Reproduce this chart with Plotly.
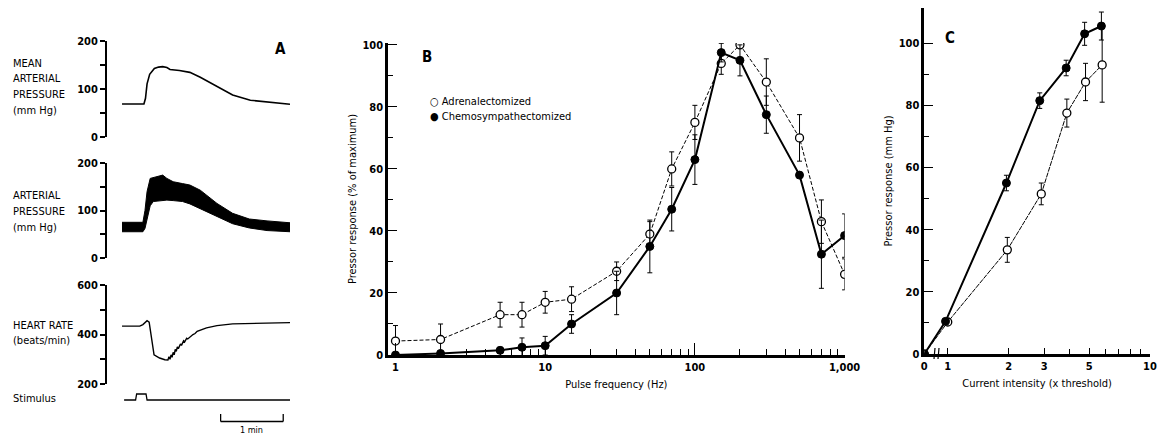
import plotly.graph_objects as go

W, H = 1157, 435
FONT = "DejaVu Sans Condensed, Liberation Sans Narrow, DejaVu Sans, sans-serif"


def fx(p):
    return p / W


def fy(p):
    return 1 - p / H


# ---------------- Panel A: recordings (time in seconds) ----------------
map_t = [0, 21, 22.5, 24, 26.5, 29, 31, 35, 39, 43, 46, 55, 65, 75, 91, 106, 123, 139, 161]
map_v = [68, 68, 80, 110, 130, 138, 142, 145, 146, 144, 140, 138, 134, 124, 104, 87, 76, 72, 67.5]

ap_t = [0, 20, 22, 24, 27, 30, 35, 39, 43, 49, 58, 65, 75, 91, 106, 122, 139, 161]
ap_hi = [75, 75, 100, 140, 168, 170, 172, 175, 168, 161, 157, 154, 143, 115, 94, 82, 78, 74]
ap_lo = [55, 55, 62, 80, 110, 119, 120, 122, 122, 121, 119, 114, 104, 87, 72, 63, 57.5, 55]

hr_t = [0, 17, 20, 24, 26, 28.5, 30.7, 36, 41, 44, 45, 46, 47, 48, 49, 50, 51, 52, 53, 54,
        56, 57, 59, 60, 62, 63, 66, 68, 70, 72, 81, 91, 106, 139, 161]
hr_v = [434, 434, 440, 456, 450, 370, 318, 305, 298, 297, 310, 300, 318, 308, 328, 318, 340, 332, 350, 343,
        362, 356, 375, 370, 385, 382, 395, 400, 404, 413, 427, 436, 443, 447, 448]

stim_t = [2, 13, 14, 23, 24, 161]
stim_v = [0, 0, 1, 1, 0, 0]

scale_bar_t = [94.5, 154.5]  # 1 min

# ---------------- Panel B: frequency-response ----------------
freq_b = [1, 2, 5, 7, 10, 15, 30, 50, 70, 100, 150, 200, 300, 500, 700, 1000]
adren_b = [4.5, 5, 13, 13, 17, 18, 27, 39, 60, 75, 94, 100, 88, 70, 43, 26]
adren_b_err = [5, 5, 4, 4, 3.5, 4, 3, 4, 5.5, 5.5, 3.5, 0, 7.5, 7.5, 7, 5]
chemo_b = [0, 0.5, 1.5, 2.5, 3, 10, 20, 35, 47, 63, 97.5, 95, 77.5, 58, 32.5, 38.5]
chemo_b_err = [0, 0.5, 1, 3, 3, 3, 7, 8.5, 7, 8, 3, 5, 6, 0, 11, 7]

# ---------------- Panel C: current-response ----------------
cur_chemo = [0, 0.975, 1.95, 2.85, 3.85, 4.75, 5.75]
chemo_c = [0, 10.5, 55, 81.5, 92, 103, 105.5]
chemo_c_err = [0, 0, 2.5, 2.5, 2.5, 3.7, 4.5]
cur_adren = [0, 1.0, 1.97, 2.9, 3.88, 4.8, 5.8]
adren_c = [0, 10.3, 33.5, 51.5, 77.5, 87.5, 93]
adren_c_err = [0, 0, 4, 3.5, 4.5, 6, 12]

# broken log axis: zero is drawn at the left end of the axis
AXIS_ZERO = 10 ** -0.116

fig = go.Figure()

# Panel A traces
fig.add_trace(go.Scatter(x=map_t, y=map_v, xaxis="x", yaxis="y", mode="lines",
                         line=dict(color="black", width=1.6)))
fig.add_trace(go.Scatter(x=ap_t, y=ap_lo, xaxis="x", yaxis="y2", mode="lines",
                         line=dict(color="black", width=1)))
fig.add_trace(go.Scatter(x=ap_t, y=ap_hi, xaxis="x", yaxis="y2", mode="lines", fill="tonexty",
                         fillcolor="black", line=dict(color="black", width=1)))
fig.add_trace(go.Scatter(x=hr_t, y=hr_v, xaxis="x", yaxis="y3", mode="lines",
                         line=dict(color="black", width=1.4)))
fig.add_trace(go.Scatter(x=stim_t, y=stim_v, xaxis="x", yaxis="y4", mode="lines",
                         line=dict(color="black", width=1.3)))

open_marker = dict(symbol="circle", size=8, color="white", line=dict(color="black", width=1.3))
filled_marker = dict(symbol="circle", size=8, color="black", line=dict(color="black", width=1))
err_style = dict(type="data", thickness=1, width=2.5, color="black")

# Panel B traces
fig.add_trace(go.Scatter(x=freq_b, y=adren_b, xaxis="x2", yaxis="y5", mode="lines+markers",
                         line=dict(color="black", width=1, dash="4px,2px"), marker=open_marker,
                         error_y=dict(array=adren_b_err, **err_style)))
fig.add_trace(go.Scatter(x=freq_b, y=chemo_b, xaxis="x2", yaxis="y5", mode="lines+markers",
                         line=dict(color="black", width=2), marker=filled_marker,
                         error_y=dict(array=chemo_b_err, **err_style)))

# Panel C traces
cx_adren = [AXIS_ZERO if v == 0 else v for v in cur_adren]
cx_chemo = [AXIS_ZERO if v == 0 else v for v in cur_chemo]
fig.add_trace(go.Scatter(x=cx_adren, y=adren_c, xaxis="x3", yaxis="y6", mode="lines+markers",
                         line=dict(color="black", width=1, dash="5px,1px"), marker=open_marker,
                         error_y=dict(array=adren_c_err, **err_style)))
fig.add_trace(go.Scatter(x=cx_chemo, y=chemo_c, xaxis="x3", yaxis="y6", mode="lines+markers",
                         line=dict(color="black", width=2), marker=filled_marker,
                         error_y=dict(array=chemo_c_err, **err_style)))

tickfont = dict(family=FONT, size=11, color="black", weight="bold")
title_font = dict(family=FONT, size=11, color="black")
axis_common = dict(showline=True, linecolor="black", showgrid=False, zeroline=False,
                   tickcolor="black", tickfont=tickfont, automargin=False)

# Panel A axes
fig.update_layout(
    xaxis=dict(domain=[fx(107), fx(290)], range=[-14.4, 161], visible=False, anchor="y",
               automargin=False),
    yaxis=dict(domain=[fy(136.7), fy(40.7)], range=[0, 200], anchor="x", linewidth=2,
               ticks="outside", ticklen=5, tickwidth=1.5,
               tickvals=[0, 50, 100, 150, 200], ticktext=["0", "", "100", "", "200"], **axis_common),
    yaxis2=dict(domain=[fy(257.7), fy(163.3)], range=[0, 200], anchor="x", linewidth=2,
                ticks="outside", ticklen=5, tickwidth=1.5,
                tickvals=[0, 50, 100, 150, 200], ticktext=["0", "", "100", "", "200"], **axis_common),
    yaxis3=dict(domain=[fy(384), fy(285)], range=[200, 600], anchor="x", linewidth=2,
                ticks="outside", ticklen=5, tickwidth=1.5,
                tickvals=[200, 300, 400, 500, 600], ticktext=["200", "", "400", "", "600"], **axis_common),
    yaxis4=dict(domain=[fy(435), fy(388)], range=[-5.83, 2], anchor="x", visible=False,
                automargin=False),
)

# Panel B axes
fig.update_layout(
    xaxis2=dict(domain=[fx(388), fx(844.6)], type="log", range=[-0.05, 3.0], anchor="y5",
                linewidth=2.5, ticks="inside", ticklen=12, tickwidth=1.3,
                tickvals=[1, 10, 100, 1000], ticktext=["1", "10", "100", "1,000"],
                minor=dict(ticks="inside", ticklen=6, tickwidth=1.1, tickcolor="black",
                           tickvals=[m * d for d in (1, 10, 100) for m in range(2, 10)]),
                title=dict(text="Pulse frequency (Hz)", font=title_font, standoff=8),
                **axis_common),
    yaxis5=dict(domain=[fy(355), fy(43)], range=[0, 100.6], anchor="x2",
                linewidth=2.5, ticks="inside", ticklen=9, tickwidth=1.3,
                tickvals=[0, 20, 40, 60, 80, 100],
                minor=dict(ticks="inside", ticklen=5, tickwidth=1.1, tickcolor="black",
                           tickvals=[10, 30, 50, 70, 90]),
                title=dict(text="Pressor response (% of maximum)", font=title_font, standoff=4),
                **axis_common),
)

# Panel C axes
fig.update_layout(
    xaxis3=dict(domain=[fx(924.3), fx(1150)], type="log", range=[-0.116, 1.0], anchor="y6",
                linewidth=2.5, ticks="inside", ticklen=6, tickwidth=1.3,
                tickvals=[AXIS_ZERO, 1, 2, 3, 5, 10], ticktext=["0", "1", "2", "3", "5", "10"],
                ticklabeloverflow="allow",
                minor=dict(ticks="inside", ticklen=5, tickwidth=1.1, tickcolor="black",
                           tickvals=[4, 6, 7, 8, 9]),
                title=dict(text="Current intensity (x threshold)", font=title_font, standoff=8),
                **axis_common),
    yaxis6=dict(domain=[fy(354), fy(8)], range=[0, 111.3], anchor="x3",
                linewidth=2.5, ticks="inside", ticklen=9, tickwidth=1.3,
                tickvals=[0, 20, 40, 60, 80, 100],
                minor=dict(ticks="inside", ticklen=5, tickwidth=1.1, tickcolor="black",
                           tickvals=[10, 30, 50, 70, 90]),
                title=dict(text="Pressor response (mm Hg)", font=title_font, standoff=4),
                **axis_common),
)

annotations = []
label_font = dict(family=FONT, size=11, color="black")

# Panel A channel labels
channel_lines = [
    ("MEAN", 63), ("ARTERIAL", 78.5), ("PRESSURE", 94), ("(mm Hg)", 110),
    ("ARTERIAL", 196), ("PRESSURE", 212), ("(mm Hg)", 227.5),
    ("HEART RATE", 325), ("(beats/min)", 340),
    ("Stimulus", 398),
]
for text, ypx in channel_lines:
    annotations.append(dict(text=text, x=fx(11), y=fy(ypx), xref="paper", yref="paper",
                            xanchor="left", yanchor="middle", showarrow=False, font=label_font))

annotations.append(dict(text="1 min", x=sum(scale_bar_t) / 2, y=fy(423), xref="x", yref="paper",
                        xanchor="center", yanchor="top", showarrow=False,
                        font=dict(family=FONT, size=9, color="black")))

# Panel letters
for letter, xp, yp in [("A", 280, 49), ("B", 427, 57), ("C", 950, 38)]:
    annotations.append(dict(text=letter, x=fx(xp), y=fy(yp), xref="paper", yref="paper",
                            xanchor="center", yanchor="middle", showarrow=False,
                            font=dict(family=FONT, size=15, color="black", weight="bold")))

# Panel B key
annotations.append(dict(text="○ Adrenalectomized", x=fx(428), y=fy(101.5), xref="paper", yref="paper",
                        xanchor="left", yanchor="middle", showarrow=False, font=label_font))
annotations.append(dict(text="● Chemosympathectomized", x=fx(428), y=fy(116.5), xref="paper",
                        yref="paper", xanchor="left", yanchor="middle", showarrow=False, font=label_font))

shapes = [
    # 1-min scale bar
    dict(type="line", xref="x", yref="paper", x0=scale_bar_t[0], x1=scale_bar_t[1],
         y0=fy(421.5), y1=fy(421.5), line=dict(color="black", width=1.3)),
    dict(type="line", xref="x", yref="paper", x0=scale_bar_t[0], x1=scale_bar_t[0],
         y0=fy(421.5), y1=fy(414), line=dict(color="black", width=1.3)),
    dict(type="line", xref="x", yref="paper", x0=scale_bar_t[1], x1=scale_bar_t[1],
         y0=fy(421.5), y1=fy(414), line=dict(color="black", width=1.3)),
    # axis break marks on panel C abscissa
    dict(type="line", xref="paper", yref="paper", x0=fx(934), x1=fx(935),
         y0=fy(359), y1=fy(348), line=dict(color="black", width=1.2)),
    dict(type="line", xref="paper", yref="paper", x0=fx(938), x1=fx(939),
         y0=fy(359), y1=fy(348), line=dict(color="black", width=1.2)),
]

fig.update_layout(
    width=W, height=H,
    margin=dict(l=0, r=0, t=0, b=0, autoexpand=False),
    paper_bgcolor="white", plot_bgcolor="white",
    showlegend=False,
    annotations=annotations,
    shapes=shapes,
    font=dict(family=FONT, color="black"),
)

fig.write_html("out.html")
